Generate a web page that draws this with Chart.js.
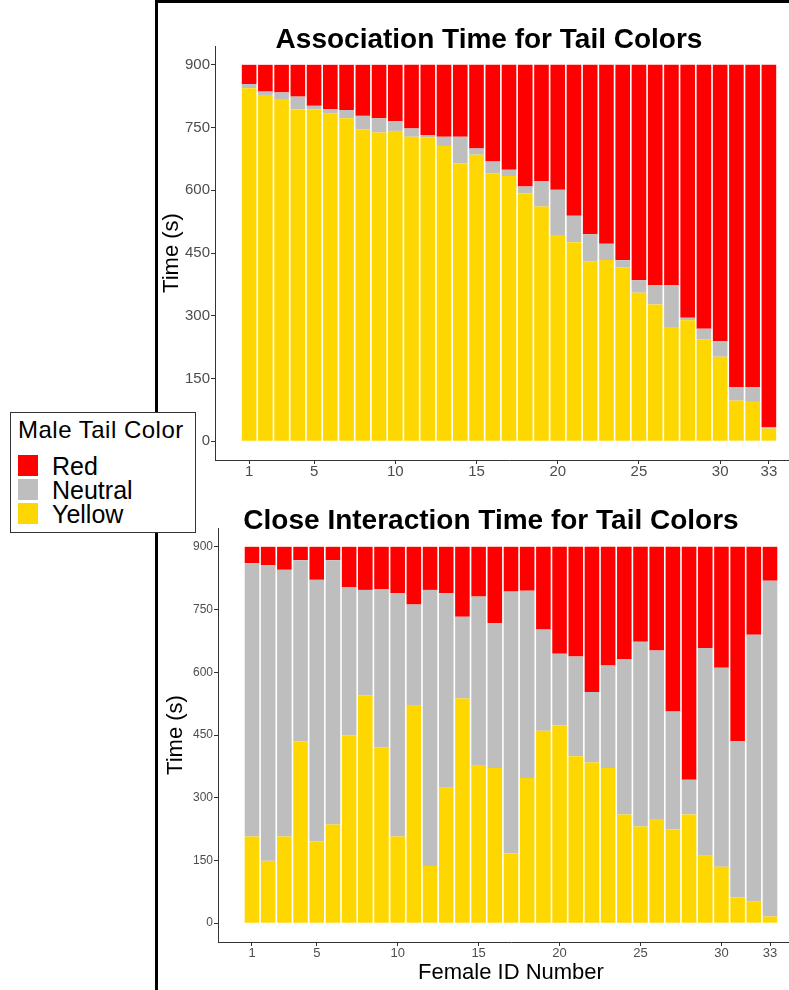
<!DOCTYPE html>
<html>
<head>
<meta charset="utf-8">
<title>Tail Colors</title>
<script src="https://cdn.jsdelivr.net/npm/chart.js@4.4.1/dist/chart.umd.min.js"></script>
<style>
  html, body { margin: 0; padding: 0; background: #fff; }
  body { width: 789px; height: 990px; overflow: hidden; position: relative;
         font-family: "Liberation Sans", Arial, sans-serif; }
  #frame { position: absolute; left: 155px; top: 0; width: 700px; height: 990px;
           border-left: 3px solid #000; border-top: 3px solid #000; }
  canvas { position: absolute; }
  #c1 { left: 158px; top: 0; }
  #c2 { left: 158px; top: 500px; }
  #legend { position: absolute; left: 10px; top: 412px; width: 184px; height: 119px;
            border: 1.5px solid #333; background: #fff; }
  #legend .ttl { position: absolute; left: 7px; top: 5px; font-size: 24px; line-height: 24px;
                 letter-spacing: 0.5px; color: #000; white-space: nowrap; }
  #legend .key { position: absolute; left: 7px; width: 20px; height: 21px; }
  #legend .lab { position: absolute; left: 41px; font-size: 25px; line-height: 24px; color: #000; }
</style>
</head>
<body>
<div id="frame"></div>
<canvas id="c1" width="645" height="500"></canvas>
<canvas id="c2" width="646" height="490"></canvas>
<div id="legend"></div>

<script>
const femaleIds = [1, 2, 3, 4, 5, 6, 7, 8, 9, 10, 11, 12, 13, 14, 15, 16, 17,
                   18, 19, 20, 21, 22, 23, 24, 25, 26, 27, 28, 29, 30, 31, 32, 33];
const xTickValues = [1, 5, 10, 15, 20, 25, 30, 33];
const yTickValues = [0, 150, 300, 450, 600, 750, 900];

const seriesNames = ['Red', 'Neutral', 'Yellow'];
const seriesColors = ['#FF0000', '#BEBEBE', '#FFD700'];

// Association time (s)
const assocRed = [46, 64, 66, 76, 98, 106, 108, 122, 128, 135, 152, 168, 172, 172, 200, 231, 251,
                  291, 278, 299, 361, 405, 428, 467, 515, 527, 527, 605, 631, 661, 771, 771, 866];
const assocNeutral = [10, 8, 16, 30, 8, 10, 20, 33, 34, 23, 20, 6, 22, 64, 15, 29, 15,
                      16, 61, 108, 63, 65, 39, 18, 30, 46, 100, 6, 26, 37, 32, 35, 4];
const assocYellow = [844, 828, 818, 794, 794, 784, 772, 745, 738, 742, 728, 726, 706, 664, 685, 640, 634,
                     593, 561, 493, 476, 430, 433, 415, 355, 327, 273, 289, 243, 202, 97, 94, 30];

// Close interaction time (s)
const closeRed = [39, 44, 55, 32, 79, 32, 97, 103, 101, 111, 138, 103, 111, 167, 119, 183, 107,
                  105, 198, 256, 262, 347, 284, 268, 227, 248, 394, 557, 242, 289, 465, 210, 81];
const closeNeutral = [654, 707, 638, 433, 625, 632, 354, 252, 379, 582, 240, 660, 465, 196, 403, 346, 626,
                      448, 242, 171, 239, 169, 245, 372, 442, 403, 282, 83, 497, 476, 373, 638, 803];
const closeYellow = [207, 149, 207, 435, 196, 236, 449, 545, 420, 207, 522, 137, 324, 537, 378, 371, 167,
                     347, 460, 473, 399, 384, 371, 260, 231, 249, 224, 260, 161, 135, 62, 52, 16];

const axisFont = '"Liberation Sans", Arial, sans-serif';
const titleFont = '"Liberation Sans Narrow", "Arial Narrow", "Liberation Sans", sans-serif';

function makeChart(canvasId, title, series, fit) {
    // yellow at the bottom, red on top
    const datasets = [2, 1, 0].map(k => ({
        label: seriesNames[k],
        data: femaleIds.map((id, i) => ({ x: id, y: series[k][i] })),
        backgroundColor: seriesColors[k],
        borderWidth: 0,
        barPercentage: 0.9,
        categoryPercentage: 1
    }));

    return new Chart(document.getElementById(canvasId), {
        type: 'bar',
        data: { datasets: datasets },
        options: {
            responsive: false,
            animation: false,
            devicePixelRatio: 1,
            layout: { padding: { left: fit.padLeft, right: 0, top: 0, bottom: 0 } },
            plugins: {
                legend: { display: false },
                tooltip: { enabled: false },
                title: {
                    display: true,
                    text: title,
                    color: '#000',
                    font: { family: titleFont, size: 28, weight: 'bold', lineHeight: 1 },
                    padding: { top: fit.titleTop, bottom: fit.titleBottom }
                }
            },
            scales: {
                x: {
                    type: 'linear',
                    stacked: true,
                    min: -1.1,
                    max: 35.1,
                    offset: false,
                    afterBuildTicks: s => { s.ticks = xTickValues.map(v => ({ value: v })); },
                    afterFit: s => { s.height = fit.xHeight; },
                    ticks: {
                        color: '#4d4d4d',
                        font: { family: axisFont, size: fit.xTickSize, lineHeight: 1 },
                        padding: fit.xTickPad,
                        maxRotation: 0,
                        autoSkip: false
                    },
                    grid: { offset: false, drawOnChartArea: false, tickLength: 4, color: '#333' },
                    border: { color: '#333', width: 1 },
                    title: {
                        display: fit.showXTitle,
                        text: 'Female ID Number',
                        color: '#000',
                        font: { family: axisFont, size: 22, lineHeight: 1 },
                        padding: { top: 0, bottom: 6 }
                    }
                },
                y: {
                    stacked: true,
                    min: -45,
                    max: 945,
                    afterBuildTicks: s => { s.ticks = yTickValues.map(v => ({ value: v })); },
                    afterFit: s => { s.width = fit.yWidth; },
                    ticks: {
                        color: '#4d4d4d',
                        font: { family: axisFont, size: fit.yTickSize, lineHeight: 1 },
                        padding: 1
                    },
                    grid: { drawOnChartArea: false, tickLength: 4, color: '#333' },
                    border: { color: '#333', width: 1 },
                    title: {
                        display: true,
                        text: 'Time (s)',
                        color: '#000',
                        font: { family: axisFont, size: 22, lineHeight: 1 },
                        padding: { top: fit.yTitlePad, bottom: 0 }
                    }
                }
            }
        }
    });
}

makeChart('c1', 'Association Time for Tail Colors', [assocRed, assocNeutral, assocYellow], {
    padLeft: 17, yWidth: 40, yTitlePad: -14, titleTop: 26, titleBottom: -8,
    xHeight: 40, xTickSize: 15, xTickPad: 0, yTickSize: 15, showXTitle: false
});

makeChart('c2', 'Close Interaction Time for Tail Colors', [closeRed, closeNeutral, closeYellow], {
    padLeft: 20, yWidth: 40, yTitlePad: -13, titleTop: 7, titleBottom: -7,
    xHeight: 48, xTickSize: 13, xTickPad: 1, yTickSize: 12, showXTitle: true
});

// legend
const legend = document.getElementById('legend');
const ttl = document.createElement('div');
ttl.className = 'ttl';
ttl.textContent = 'Male Tail Color';
legend.appendChild(ttl);
seriesNames.forEach((name, i) => {
    const rowTop = 41 + i * 24;
    const key = document.createElement('div');
    key.className = 'key';
    key.style.top = (rowTop + 1) + 'px';
    key.style.background = seriesColors[i];
    legend.appendChild(key);
    const lab = document.createElement('div');
    lab.className = 'lab';
    lab.style.top = rowTop + 'px';
    lab.textContent = name;
    legend.appendChild(lab);
});
</script>
</body>
</html>
